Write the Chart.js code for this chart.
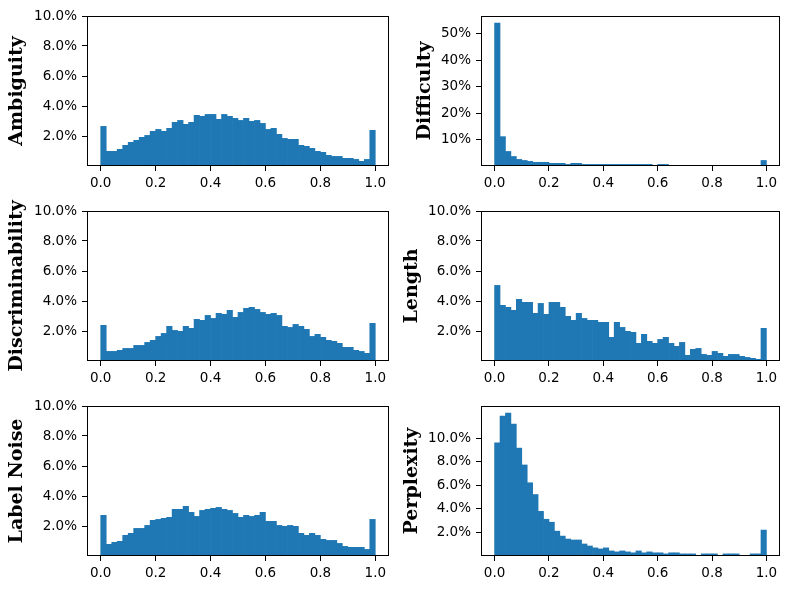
<!DOCTYPE html>
<html><head><meta charset="utf-8">
<script src="https://cdn.jsdelivr.net/npm/chart.js@4.4.1/dist/chart.umd.min.js"></script>
<style>
html,body{margin:0;padding:0;background:#fff;}
#wrap{position:relative;width:790px;height:590px;overflow:hidden;background:#fff;}
canvas{position:absolute;}
</style></head><body><div id="wrap">
<canvas id="c0" width="395" height="196" style="left:0px;top:0px"></canvas>
<canvas id="c1" width="395" height="196" style="left:395px;top:0px"></canvas>
<canvas id="c2" width="395" height="196" style="left:0px;top:195px"></canvas>
<canvas id="c3" width="395" height="196" style="left:395px;top:195px"></canvas>
<canvas id="c4" width="395" height="196" style="left:0px;top:390px"></canvas>
<canvas id="c5" width="395" height="196" style="left:395px;top:390px"></canvas>
</div>
<script>
// Histogram bin centres (50 bins over 0..1)
const binCenters = [0.01,0.03,0.05,0.07,0.09,0.11,0.13,0.15,0.17,0.19,
  0.21,0.23,0.25,0.27,0.29,0.31,0.33,0.35,0.37,0.39,
  0.41,0.43,0.45,0.47,0.49,0.51,0.53,0.55,0.57,0.59,
  0.61,0.63,0.65,0.67,0.69,0.71,0.73,0.75,0.77,0.79,
  0.81,0.83,0.85,0.87,0.89,0.91,0.93,0.95,0.97,0.99];

// Percent of samples per bin
const ambiguity = [2.64,0.98,0.98,1.11,1.38,1.58,1.71,1.91,2.04,2.31,
  2.44,2.31,2.51,2.91,3.04,2.78,2.91,3.38,3.31,3.44,
  3.44,3.11,3.44,3.31,3.18,3.04,3.18,2.98,3.04,2.84,
  2.44,2.51,2.11,1.84,1.78,1.78,1.38,1.31,1.18,0.98,
  0.91,0.71,0.64,0.64,0.51,0.51,0.44,0.31,0.44,2.38];
const difficulty = [54.0,11.1,5.5,3.6,2.5,2.1,1.75,1.4,1.4,1.4,
  1.0,1.0,1.0,0.6,1.0,1.0,0.6,0.6,0.6,0.6,
  0.6,0.6,0.6,0.6,0.6,0.6,0.6,0.6,0.6,0,
  0.6,0.6,0,0,0,0,0,0,0,0,
  0,0,0,0,0,0,0,0,0,2.1];
const discriminability = [2.38,0.64,0.64,0.71,0.84,0.84,1.04,1.04,1.24,1.38,
  1.64,1.84,2.31,2.04,1.98,2.31,2.18,2.78,2.71,3.04,
  2.84,3.18,3.11,3.38,2.91,3.24,3.51,3.58,3.44,3.24,
  3.11,3.18,3.04,2.31,2.24,2.44,2.31,2.11,1.64,1.78,
  1.58,1.38,1.31,1.18,0.91,0.91,0.71,0.64,0.51,2.51];
const lengthVals = [5.04,3.71,3.58,3.38,4.11,3.91,3.91,3.18,3.84,3.11,
  3.91,3.91,3.58,2.98,2.71,3.18,2.84,2.71,2.71,2.58,
  2.58,1.58,2.58,2.24,1.98,1.91,1.18,1.78,1.31,1.18,
  1.44,1.58,1.18,0.98,1.24,0.38,0.78,0.84,0.44,0.38,
  0.64,0.51,0.31,0.44,0.44,0.31,0.24,0.18,0.11,2.18];
const labelNoise = [2.71,0.78,0.91,0.98,1.38,1.51,1.84,1.84,2.04,2.38,
  2.44,2.51,2.58,3.11,3.11,3.31,2.91,2.64,3.04,3.11,
  3.18,3.24,3.11,3.04,2.84,2.58,2.71,2.64,2.71,2.91,
  2.31,2.31,2.04,1.98,2.04,1.98,1.51,1.38,1.51,1.38,
  1.11,1.04,1.04,0.84,0.64,0.58,0.58,0.58,0.44,2.44];
const perplexity = [9.61,11.87,12.13,11.20,9.16,7.73,6.22,5.22,3.79,3.12,
  2.87,2.11,1.69,1.44,1.36,1.36,1.02,0.85,0.69,0.60,
  0.69,0.43,0.35,0.43,0.35,0.27,0.43,0.27,0.35,0.27,
  0.27,0.18,0.27,0.27,0.18,0.18,0.18,0,0.18,0.18,
  0.18,0,0.18,0.18,0.18,0,0,0.18,0.18,2.2];

// Tick values
const xTicks = [0, 0.2, 0.4, 0.6, 0.8, 1.0];
const pctTicks = [2, 4, 6, 8, 10];
const difficultyTicks = [10, 20, 30, 40, 50];

const panels = [
  {id:'c0', title:'Ambiguity', values:ambiguity, yTicks:pctTicks, yMax:10, dec:1, col:0, tpad:6},
  {id:'c1', title:'Difficulty', values:difficulty, yTicks:difficultyTicks, yMax:null, dec:0, col:1, tpad:19},
  {id:'c2', title:'Discriminability', values:discriminability, yTicks:pctTicks, yMax:10, dec:1, col:0, tpad:6},
  {id:'c3', title:'Length', values:lengthVals, yTicks:pctTicks, yMax:10, dec:1, col:1, tpad:6},
  {id:'c4', title:'Label Noise', values:labelNoise, yTicks:pctTicks, yMax:10, dec:1, col:0, tpad:6},
  {id:'c5', title:'Perplexity', values:perplexity, yTicks:pctTicks, yMax:null, dec:1, col:1, tpad:6}
];

const framePlugin = {
  id: 'frame',
  afterDraw(chart) {
    const {ctx, chartArea: a} = chart;
    ctx.save();
    ctx.strokeStyle = '#000';
    ctx.lineWidth = 1;
    const l = Math.round(a.left) + 0.5, t = Math.round(a.top) + 0.5;
    const r = Math.round(a.right) - 0.5, b = Math.round(a.bottom) - 0.5;
    ctx.strokeRect(l, t, r - l, b - t);
    ctx.restore();
  }
};

const tickFont = {family: 'DejaVu Sans', size: 13.5};

panels.forEach(p => {
  const yMax = p.yMax !== null ? p.yMax : Math.max(...p.values) * 1.05;
  new Chart(document.getElementById(p.id), {
    type: 'bar',
    data: {
      datasets: [{
        data: binCenters.map((x, i) => ({x: x, y: p.values[i]})),
        backgroundColor: '#1f77b4',
        borderWidth: 0,
        barPercentage: 1,
        categoryPercentage: 1
      }]
    },
    options: {
      responsive: false,
      animation: false,
      devicePixelRatio: 1,
      layout: {padding: {top: 16, bottom: 0, left: 0, right: p.col === 0 ? 6 : 10}},
      plugins: {legend: {display: false}, tooltip: {enabled: false}},
      scales: {
        x: {
          type: 'linear',
          min: -0.05, max: 1.05,
          offset: false,
          grid: {display: true, offset: false, drawOnChartArea: false, drawTicks: true, tickLength: 5, tickColor: '#000', tickWidth: 1},
          border: {display: false},
          afterBuildTicks: s => { s.ticks = xTicks.map(v => ({value: v})); },
          afterFit: s => { s.height = 30; },
          ticks: {font: tickFont, color: '#000', padding: 4, maxRotation: 0, autoSkip: false,
            callback: v => Number(v).toFixed(1)}
        },
        y: {
          type: 'linear',
          min: 0, max: yMax,
          grid: {display: true, drawOnChartArea: false, drawTicks: true, tickLength: 5, tickColor: '#000', tickWidth: 1},
          border: {display: false},
          afterBuildTicks: s => { s.ticks = p.yTicks.map(v => ({value: v})); },
          afterFit: s => { s.width = p.col === 0 ? 87 : 86; },
          ticks: {font: tickFont, color: '#000', padding: 5, autoSkip: false,
            callback: v => Number(v).toFixed(p.dec) + '%'},
          title: {display: true, text: p.title, color: '#000',
            font: {family: 'DejaVu Serif', size: 19, weight: 'bold'},
            padding: {top: p.tpad, bottom: 0}}
        }
      }
    },
    plugins: [framePlugin]
  });
});
</script>
</body></html>
